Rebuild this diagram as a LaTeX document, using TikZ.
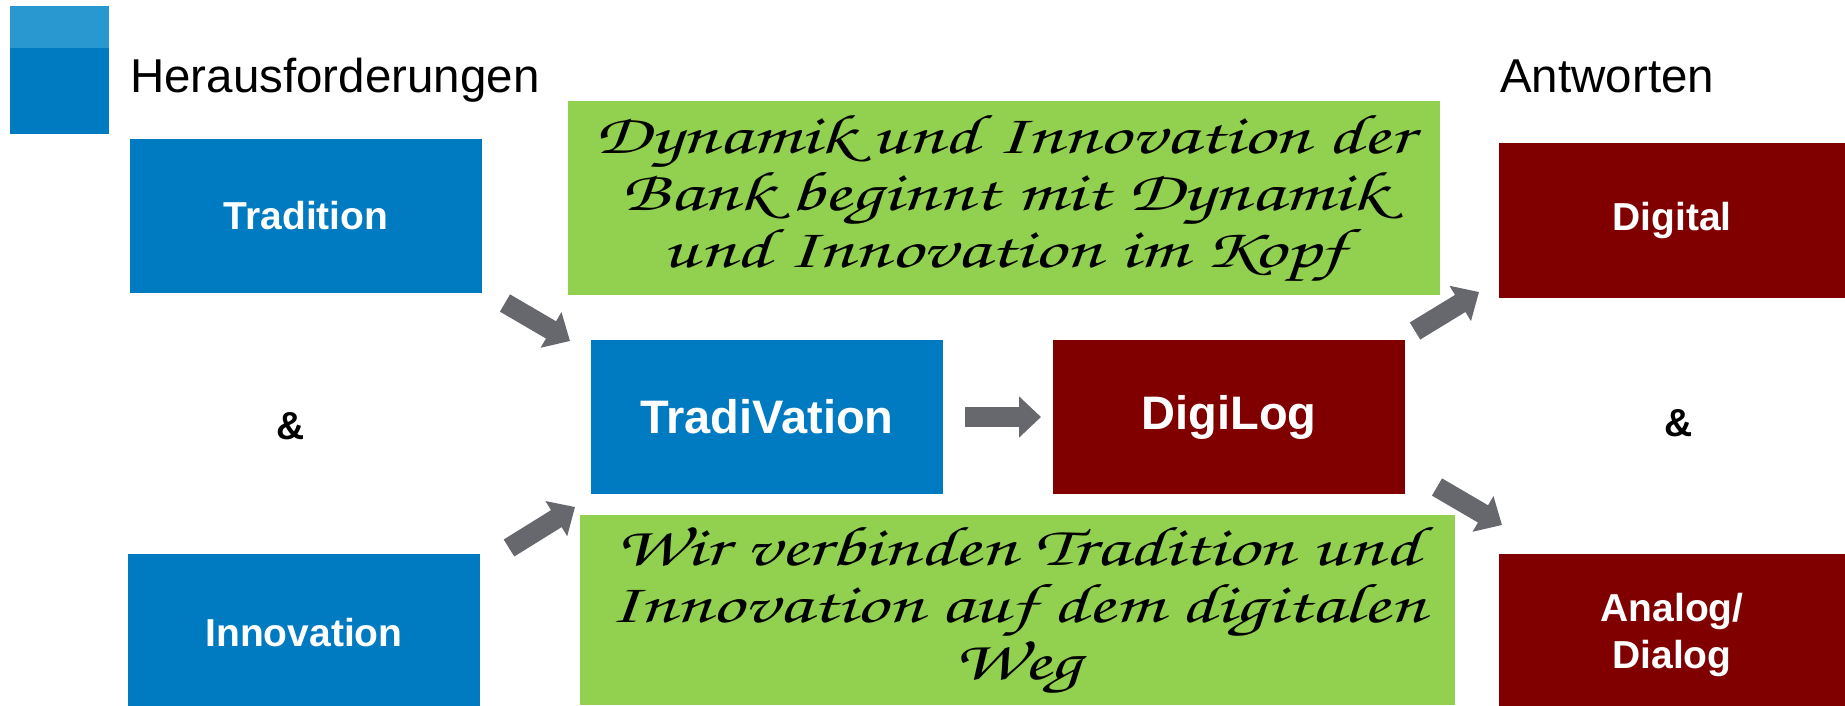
\documentclass[tikz,border=0pt]{standalone}
\usepackage{fontspec}
\setmainfont{Liberation Sans}
\newfontfamily\handfont[FakeStretch=1.41]{texgyrechorus-mediumitalic.otf}
\usetikzlibrary{arrows.meta}
\definecolor{tblue}{HTML}{007AC0}
\definecolor{tlightblue}{HTML}{2997D0}
\definecolor{tred}{HTML}{800000}
\definecolor{tgreen}{HTML}{92D050}
\definecolor{tgray}{HTML}{67686D}
\begin{document}
\begin{tikzpicture}[x=1pt,y=-1pt,
  box/.style={inner sep=0pt, minimum width=352pt, minimum height=154pt, text=white,
    font=\bfseries\fontsize{39}{47}\selectfont, align=center},
  bluebox/.style={box, fill=tblue},
  redbox/.style={box, fill=tred},
  bigbox/.style={box, font=\bfseries\fontsize{47}{56}\selectfont},
  greenbox/.style={fill=tgreen, inner sep=0pt, align=center, text=black,
    font=\handfont\fontsize{56}{57}\selectfont},
  heading/.style={inner sep=0pt, anchor=base west, font=\fontsize{47.5}{57}\selectfont},
  amp/.style={inner sep=0pt, font=\bfseries\fontsize{39}{47}\selectfont},
  blockarrow/.style={draw=tgray, line width=20pt, -{Triangle[length=22pt,width=40pt]}}]
\useasboundingbox (0,0) rectangle (1845,705);
% corner square
\fill[tblue] (10,6) rectangle (109,134);
\fill[tlightblue] (10,6) rectangle (109,48);
% headings
\node[heading] (h1) at (130,92) {Herausforderungen};
\node[heading] (h2) at (1500,92) {Antworten};
% left column
\node[bluebox] (trad) at (306,216) {Tradition};
\node[amp] (amp1) at (291,426) {\&};
\node[bluebox, minimum height=158pt] (inno) at (304,633) {Innovation};
% center
\node[greenbox, minimum width=872pt, minimum height=194pt] (g1) at (1004,198)
  {Dynamik und Innovation der\\Bank beginnt mit Dynamik\\und Innovation im Kopf};
\node[bluebox, bigbox, fill=tblue] (tv) at (767,417) {TradiVation};
\node[redbox, bigbox, fill=tred] (dl) at (1229,417) {DigiLog};
\node[greenbox, minimum width=875pt, minimum height=190pt] (g2) at (1017.5,610)
  {Wir verbinden Tradition und\\Innovation auf dem digitalen\\Weg};
% right column
\node[redbox, minimum width=346pt, minimum height=155pt] (dig) at (1672,220) {Digital};
\node[amp] (amp2) at (1679,423) {\&};
\node[redbox, minimum width=346pt, minimum height=162pt] (ana) at (1672,635) {Analog/\\Dialog};
% arrows
\coordinate (a1s) at (505,303); \coordinate (a1e) at (570,341);
\coordinate (a2s) at (509,548); \coordinate (a2e) at (575,507);
\coordinate (a3s) at (965,417); \coordinate (a3e) at (1041,417);
\coordinate (a4s) at (1415,331); \coordinate (a4e) at (1479,292);
\coordinate (a5s) at (1437,487); \coordinate (a5e) at (1502,525);
\draw[blockarrow] (a1s) -- (a1e);
\draw[blockarrow] (a2s) -- (a2e);
\draw[blockarrow] (a3s) -- (a3e);
\draw[blockarrow] (a4s) -- (a4e);
\draw[blockarrow] (a5s) -- (a5e);
\end{tikzpicture}
\end{document}
